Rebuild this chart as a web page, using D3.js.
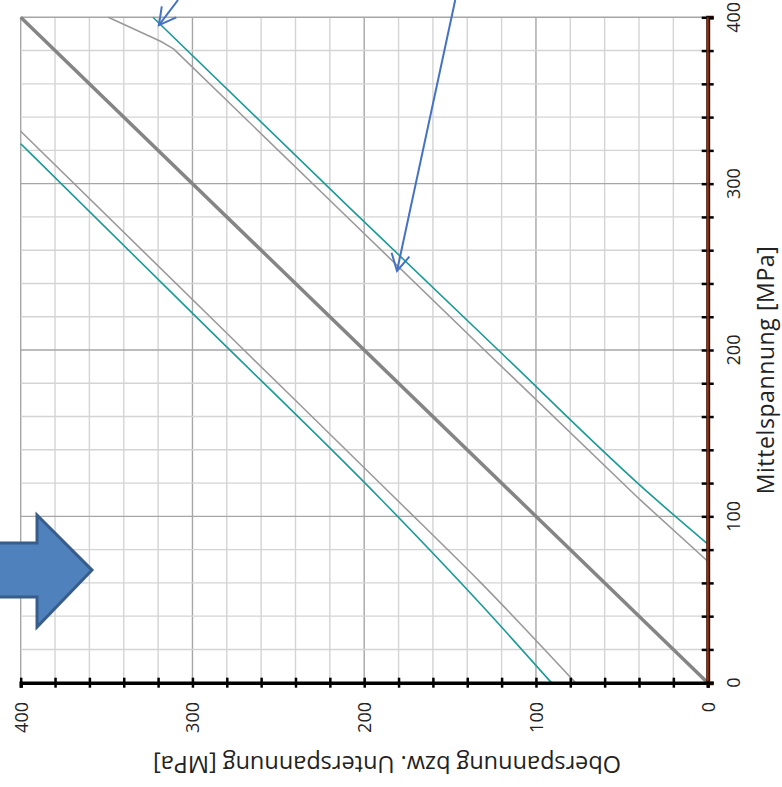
<!DOCTYPE html>
<html>
<head>
<meta charset="utf-8">
<style>
  body { margin: 0; background: #fff; }
  svg { display: block; }
  text { font-family: "Open Sans", sans-serif; fill: #222; }
</style>
</head>
<body>
<svg id="chart"></svg>
<script src="https://d3js.org/d3.v7.min.js"></script>
<script>
// Smith-Diagramm (gedreht): x = Ober-/Unterspannung, y = Mittelspannung
var tickValues = d3.range(0, 401, 20);
var labelValues = [0, 100, 200, 300, 400];

// [Ober-/Unterspannung, Mittelspannung]
var mittelLinie = [[0, 0], [400, 400]];
var oberGrau = [[77, 0], [132, 60], [181, 110], [270, 200], [400, 331.5]];
var oberTeal = [[91, 0], [132, 47], [190, 110], [294, 216], [400, 324]];
var unterGrau = [[0, 73], [39.4, 110], [130, 200], [208, 278], [311, 381], [318.6, 385.6], [349, 400]];
var unterTeal = [[0, 83.4], [30, 110], [122, 200], [208, 285], [323, 400]];

// Hinweispfeile (Start, Spitze) in Diagrammkoordinaten
var pfeile = [
  [[308.4, 410.4], [319.5, 395.3]],
  [[147, 410.4], [180.9, 247.5]]
];
var blockPfeil = [[415, 84], [390.5, 84], [390.5, 100.8], [358.5, 67.7], [390.5, 33.5], [390.5, 51.5], [415, 51.5]];

var width = 782, height = 787;
var svg = d3.select("#chart").attr("width", width).attr("height", height);

var x = d3.scaleLinear().domain([400, 0]).range([20.7, 707.7]);
var y = d3.scaleLinear().domain([0, 400]).range([682.7, 17.3]);

// Gitter
var grid = svg.append("g");
grid.selectAll(".vx").data(tickValues).enter().append("line")
  .attr("x1", function(d) { return x(d); })
  .attr("x2", function(d) { return x(d); })
  .attr("y1", y(0)).attr("y2", y(400))
  .attr("stroke", function(d) { return d % 100 == 0 ? "#a6a6a6" : "#d4d4d4"; })
  .attr("stroke-width", 1.4);
grid.selectAll(".hy").data(tickValues).enter().append("line")
  .attr("y1", function(d) { return y(d); })
  .attr("y2", function(d) { return y(d); })
  .attr("x1", x(400)).attr("x2", x(0))
  .attr("stroke", function(d) { return d % 100 == 0 ? "#a6a6a6" : "#d4d4d4"; })
  .attr("stroke-width", 1.4);

var glatt = d3.line()
  .curve(d3.curveMonotoneY)
  .x(function(d) { return x(d[0]); })
  .y(function(d) { return y(d[1]); });
var gerade = d3.line()
  .x(function(d) { return x(d[0]); })
  .y(function(d) { return y(d[1]); });

var kurven = [
  { data: mittelLinie, color: "#858585", w: 3.5, gen: gerade },
  { data: oberGrau, color: "#9a9a9a", w: 1.6, gen: glatt },
  { data: unterGrau, color: "#9a9a9a", w: 1.6, gen: gerade },
  { data: oberTeal, color: "#1b9a96", w: 1.6, gen: glatt },
  { data: unterTeal, color: "#1b9a96", w: 1.6, gen: glatt }
];
svg.selectAll(".kurve").data(kurven).enter().append("path")
  .attr("d", function(d) { return d.gen(d.data); })
  .attr("fill", "none")
  .attr("stroke", function(d) { return d.color; })
  .attr("stroke-width", function(d) { return d.w; })
  .attr("stroke-linejoin", "round");

// untere Achse
var xAxis = svg.append("g")
  .attr("transform", "translate(0," + y(0) + ")")
  .call(d3.axisBottom(x).tickValues(tickValues).tickSize(5).tickFormat(""));
xAxis.select(".domain").attr("stroke", "#000").attr("stroke-width", 3.5);
xAxis.selectAll(".tick line").attr("y1", -5).attr("stroke", "#000").attr("stroke-width", 2.5);

svg.append("g").selectAll("text").data(labelValues).enter().append("text")
  .attr("transform", function(d) { return "translate(" + x(d) + "," + 702 + ") rotate(-90)"; })
  .attr("text-anchor", "end")
  .attr("dominant-baseline", "central")
  .style("font-size", "18px")
  .text(function(d) { return d; });

svg.append("text")
  .attr("transform", "translate(" + 387 + "," + 765 + ") rotate(180)")
  .attr("text-anchor", "middle")
  .attr("dominant-baseline", "central")
  .style("font-size", "23.5px")
  .text("Oberspannung bzw. Unterspannung [MPa]");

// rechte Achse
var yAxis = svg.append("g")
  .attr("transform", "translate(" + x(0) + ",0)")
  .call(d3.axisRight(y).tickValues(tickValues).tickSize(6).tickFormat(""));
yAxis.select(".domain").attr("stroke", "#3a1205").attr("stroke-width", 4);
yAxis.selectAll(".tick line").attr("x1", -6).attr("stroke", "#000").attr("stroke-width", 2.5);
svg.append("line")
  .attr("x1", x(0)).attr("x2", x(0))
  .attr("y1", y(0) - 2).attr("y2", y(400))
  .attr("stroke", "#8a3515").attr("stroke-width", 2);

svg.append("g").selectAll("text").data(labelValues).enter().append("text")
  .attr("transform", function(d) { return "translate(" + 733 + "," + y(d) + ") rotate(-90)"; })
  .attr("text-anchor", "middle")
  .attr("dominant-baseline", "central")
  .style("font-size", "18px")
  .text(function(d) { return d; });

svg.append("text")
  .attr("transform", "translate(" + 765 + "," + 370 + ") rotate(-90)")
  .attr("text-anchor", "middle")
  .attr("dominant-baseline", "central")
  .style("font-size", "23px")
  .style("letter-spacing", "0.6px")
  .text("Mittelspannung [MPa]");

// Hinweispfeile
pfeile.forEach(function(p) {
  var x0 = x(p[0][0]), y0 = y(p[0][1]), x1 = x(p[1][0]), y1 = y(p[1][1]);
  var a = Math.atan2(y1 - y0, x1 - x0), len = 19, sp = 0.5;
  svg.append("line")
    .attr("x1", x0).attr("y1", y0).attr("x2", x1).attr("y2", y1)
    .attr("stroke", "#4472c4").attr("stroke-width", 2);
  svg.append("path")
    .attr("d", "M" + (x1 - len * Math.cos(a - sp)) + "," + (y1 - len * Math.sin(a - sp)) +
      "L" + x1 + "," + y1 +
      "L" + (x1 - len * Math.cos(a + sp)) + "," + (y1 - len * Math.sin(a + sp)))
    .attr("fill", "none").attr("stroke", "#4472c4").attr("stroke-width", 2);
});

svg.append("polygon")
  .attr("points", blockPfeil.map(function(d) { return x(d[0]) + "," + y(d[1]); }).join(" "))
  .attr("fill", "#4f81bd")
  .attr("stroke", "#385d8a")
  .attr("stroke-width", 3)
  .attr("stroke-linejoin", "miter");
</script>
</body>
</html>
